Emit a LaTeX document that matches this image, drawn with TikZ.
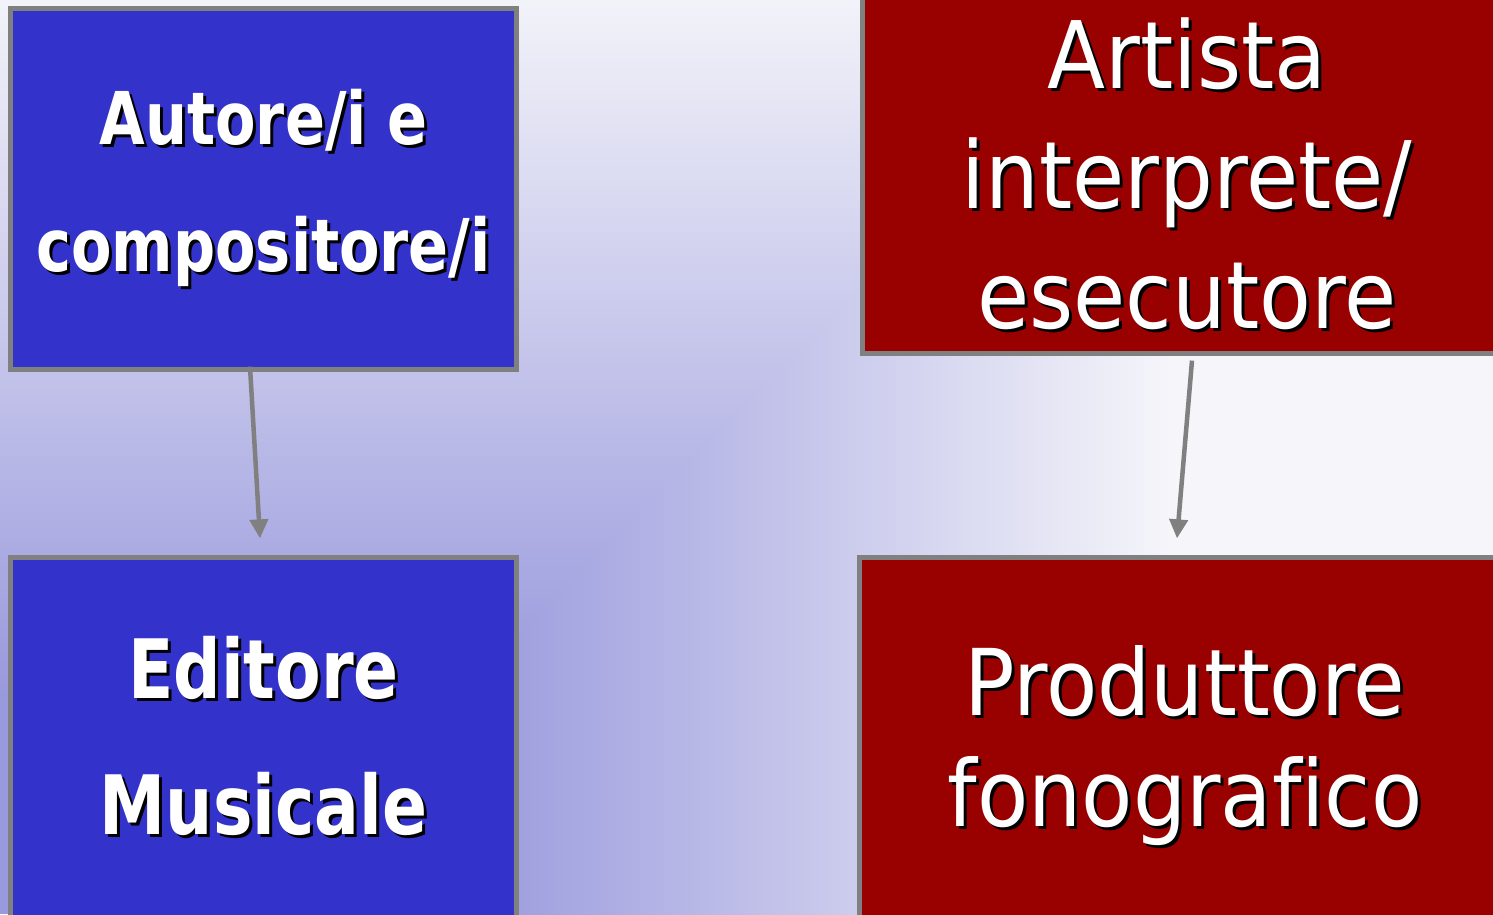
\documentclass[tikz,border=0pt]{standalone}
\usepackage{fontspec}
\newfontfamily\boldboxfont{DejaVu Sans}[FakeStretch=0.81,Ligatures=CommonOff]
\newfontfamily\plainboxfont{DejaVu Sans}[FakeStretch=0.91,Ligatures=CommonOff]
\usepackage{xcolor}
\usetikzlibrary{arrows.meta,calc}
\definecolor{bgdark}{RGB}{153,153,221}
\definecolor{bglight}{RGB}{245,245,250}
\definecolor{boxblue}{RGB}{51,51,204}
\definecolor{boxred}{RGB}{153,0,0}
\definecolor{rim}{RGB}{128,128,128}
\newcommand{\shtxt}[1]{\rlap{\kern0.03cm\raisebox{-0.03cm}{\color{black}#1}}#1}

\begin{document}
\begin{tikzpicture}[x=0.01cm,y=-0.01cm]
    \tikzset{block/.style = {rectangle,draw=rim,line width=0.05cm,text=white,align=center,inner sep=0pt}}
    \tikzset{bluebox/.style = {block,fill=boxblue}}
    \tikzset{redbox/.style = {block,fill=boxred}}
    \tikzset{edge/.style = {-{Triangle[length=0.19cm,width=0.18cm]},draw=rim,line width=0.045cm}}
    % background
    \clip (0,0) rectangle (1493,914);
    \fill[bgdark] (0,0) rectangle (457,914);
    \shade[left color=bgdark,right color=bglight] (457,0) rectangle (1170,914);
    \fill[bglight] (1170,0) rectangle (1493,914);
    \begin{scope}
    \clip (0,0) -- (1150,0) -- (236,914) -- (0,914) -- cycle;
    \shade[top color=bglight,bottom color=bgdark] (0,-20) rectangle (1493,693);
    \fill[bgdark] (0,693) rectangle (1493,914);
    \end{scope}
    % vertices
    \node[bluebox,minimum width=5.06cm,minimum height=3.61cm,
      font=\boldboxfont\bfseries\fontsize{20.7}{36.1}\selectfont] (autore) at (263.5,189)
      {\shtxt{Autore/i e}\\\shtxt{compositore/i}};
    \node[bluebox,minimum width=5.06cm,minimum height=3.59cm,
      font=\boldboxfont\bfseries\fontsize{23.3}{38.7}\selectfont] (editore) at (263.5,737.5)
      {\shtxt{Editore}\\\shtxt{Musicale}};
    \node[redbox,minimum width=6.48cm,minimum height=3.56cm,
      font=\plainboxfont\fontsize{26.5}{34.1}\selectfont] (artista) at (1187,175)
      {\shtxt{Artista}\\\shtxt{interprete/}\\\shtxt{esecutore}};
    \node[redbox,minimum width=6.5cm,minimum height=3.79cm,
      font=\plainboxfont\fontsize{26.2}{31.6}\selectfont] (produttore) at (1185,747.5)
      {\shtxt{Produttore}\\\shtxt{fonografico}};
    %edges
    \draw[edge] ($(autore.south)+(-13.5,-5.5)$) -- ($(editore.north)+(-3.5,-17)$);
    \draw[edge] ($(artista.south)+(5,5)$) -- ($(produttore.north)+(-8,-17)$);
\end{tikzpicture}
\end{document}
